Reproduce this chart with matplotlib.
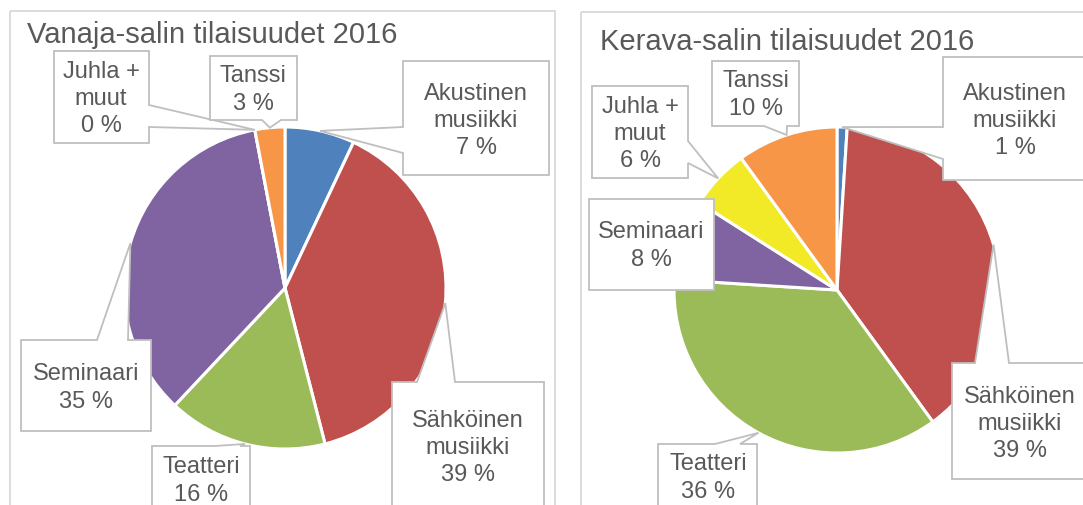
import numpy as np
import matplotlib
matplotlib.use("Agg")
import matplotlib.pyplot as plt
from matplotlib.patches import Polygon, Rectangle

plt.rcParams['font.family'] = ['Liberation Sans', 'DejaVu Sans']

# -------- data ---------------------------------------------------------------
categories = ['Akustinen\nmusiikki', 'Sähköinen\nmusiikki', 'Teatteri',
              'Seminaari', 'Juhla +\nmuut', 'Tanssi']
vanaja = [7, 39, 16, 35, 0, 3]
kerava = [1, 39, 36, 8, 6, 10]
colors = ['#4F81BD', '#C0504D', '#9BBB59', '#8064A2', '#F2EA27', '#F79646']

TXT = '#595959'
EDGE = '#BFBFBF'

# -------- layout (pixel coords, y down) -------------------------------------
# callout box: (x0, y0, x1, y1), wedge side, wedge base (a, b), text centre
vanaja_boxes = [
    ((403, 62, 549, 176), 'left', (128, 154), (476, 121)),
    ((392, 383, 544, 530), 'top', (417, 455), (468, 448)),
    ((152, 447, 250, 530), 'top', (215, 240), (201, 481)),
    ((21, 341, 151, 432), 'top', (97, 128), (86, 388)),
    ((54, 52, 149, 144), 'right', (106, 128), (101, 99)),
    ((210, 57, 297, 121), 'bottom', (262, 281), (253, 90)),
]
kerava_boxes = [
    ((943, 58, 1100, 181), 'left', (128, 160), (1015, 121)),
    ((952, 364, 1100, 480), 'top', (975, 1009), (1020, 424)),
    ((658, 445, 757, 530), 'top', (715, 740), (708, 478)),
    ((589, 200, 714, 291), None, None, (651, 246)),
    ((592, 87, 688, 179), 'right', (142, 164), (640, 134)),
    ((712, 62, 799, 127), 'bottom', (764, 787), (756, 95)),
]


def callout(ax, box, side, base, tip):
    x0, y0, x1, y1 = box
    if side == 'top':
        a, b = base
        pts = [(x0, y0), (a, y0), tip, (b, y0), (x1, y0), (x1, y1), (x0, y1)]
    elif side == 'right':
        a, b = base
        pts = [(x0, y0), (x1, y0), (x1, a), tip, (x1, b), (x1, y1), (x0, y1)]
    elif side == 'bottom':
        a, b = base
        pts = [(x0, y0), (x1, y0), (x1, y1), (b, y1), tip, (a, y1), (x0, y1)]
    elif side == 'left':
        a, b = base
        pts = [(x0, y0), (x1, y0), (x1, y1), (x0, y1), (x0, b), tip, (x0, a)]
    else:
        pts = [(x0, y0), (x1, y0), (x1, y1), (x0, y1)]
    ax.add_patch(Polygon(pts, closed=True, facecolor='white', edgecolor=EDGE,
                         lw=1.3, zorder=5))


def panel(ax, values, title, title_xy, frame, center, radius, boxes):
    ax.add_patch(Rectangle(frame[:2], frame[2], frame[3], fill=False,
                           edgecolor='#D9D9D9', lw=1.3, zorder=1))
    ax.text(*title_xy, title, fontsize=21, color=TXT, va='baseline', ha='left')
    ax.pie(values, colors=colors, startangle=-90, counterclock=True,
           center=center, radius=radius, frame=True,
           wedgeprops=dict(edgecolor='white', linewidth=2.2))
    total = float(sum(values))
    start = np.cumsum([0] + values[:-1])
    cx, cy = center
    for i, (box, side, base, txy) in enumerate(boxes):
        ang = np.deg2rad((start[i] + values[i] / 2.0) / total * 360.0)
        tip = (cx + radius * np.sin(ang), cy - radius * np.cos(ang))
        callout(ax, box, side, base, tip)
        ax.text(*txy, f"{categories[i]}\n{values[i]} %", fontsize=17,
                color=TXT, ha='center', va='center', linespacing=1.3,
                zorder=6)


fig = plt.figure(figsize=(10.83, 5.06), dpi=100)
ax = fig.add_axes([0, 0, 1, 1])

panel(ax, vanaja, 'Vanaja-salin tilaisuudet 2016', (27, 43),
      (10, 12, 545, 530), (285, 289), 161, vanaja_boxes)
panel(ax, kerava, 'Kerava-salin tilaisuudet 2016', (600, 50),
      (581, 13, 530, 530), (837, 291), 163, kerava_boxes)

ax.set_aspect('auto')
ax.set_xlim(0, 1083)
ax.set_ylim(506, 0)
ax.axis('off')

fig.savefig('out.png', dpi=100, facecolor='white')
